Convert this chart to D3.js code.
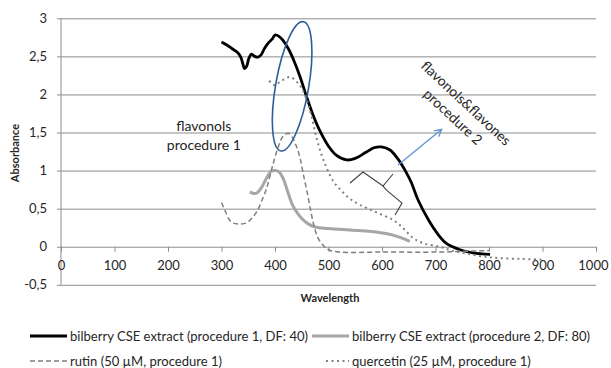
<!DOCTYPE html>
<html lang="en">
<head>
<meta charset="UTF-8">
<title>Absorbance spectra</title>
<script src="https://d3js.org/d3.v7.min.js"></script>
<style>
    body { margin: 0; background: #fff; }
    text { font-family: Lato, "Open Sans", sans-serif; fill: #262626; }
    .grid line { stroke: #8c8c8c; stroke-width: 1; }
    .tick text { font-size: 13px; }
</style>
</head>
<body>
<script>
    // values: [wavelength, absorbance]
    const bilberryP1 = [[300, 2.69], [310, 2.65], [320, 2.6], [330, 2.55], [336, 2.49], [340, 2.4], [343, 2.34], [347, 2.37], [351, 2.47], [356, 2.53], [362, 2.5], [368, 2.49], [374, 2.52], [380, 2.6], [388, 2.68], [395, 2.73], [400, 2.78], [408, 2.76], [415, 2.71], [425, 2.6], [435, 2.45], [447, 2.23], [459, 1.97], [470, 1.75], [484, 1.52], [500, 1.32], [515, 1.2], [534, 1.14], [550, 1.16], [570, 1.24], [585, 1.3], [599, 1.31], [615, 1.27], [630, 1.15], [645, 0.98], [655, 0.84], [667, 0.62], [687, 0.35], [705, 0.16], [721, 0.04], [746, -0.04], [770, -0.08], [802, -0.1]];
    const bilberryP2 = [[353, 0.72], [360, 0.7], [367, 0.71], [375, 0.78], [384, 0.9], [393, 0.99], [400, 1.0], [408, 0.98], [415, 0.9], [423, 0.74], [432, 0.56], [440, 0.46], [450, 0.37], [462, 0.3], [475, 0.26], [500, 0.24], [540, 0.22], [580, 0.2], [610, 0.17], [635, 0.12], [652, 0.07]];
    const rutin = [[300, 0.58], [308, 0.45], [315, 0.35], [322, 0.31], [335, 0.3], [346, 0.31], [356, 0.37], [366, 0.46], [375, 0.6], [384, 0.76], [395, 1.05], [406, 1.31], [415, 1.45], [425, 1.49], [432, 1.44], [440, 1.32], [447, 1.16], [453, 0.95], [460, 0.72], [466, 0.5], [472, 0.3], [480, 0.12], [490, 0.02], [500, -0.04], [520, -0.07], [600, -0.07], [700, -0.07], [750, -0.06], [800, -0.05]];
    const quercetin = [[389, 2.18], [395, 2.14], [400, 2.12], [408, 2.16], [415, 2.19], [428, 2.23], [440, 2.17], [450, 2.08], [459, 1.94], [468, 1.72], [478, 1.42], [490, 1.15], [509, 0.86], [525, 0.73], [540, 0.63], [559, 0.55], [590, 0.45], [621, 0.35], [640, 0.24], [659, 0.11], [680, 0.04], [708, 0.0], [730, -0.05], [758, -0.09], [790, -0.13], [820, -0.15], [860, -0.16], [900, -0.17]];

    const seriesNames = ["bilberry CSE extract (procedure 1, DF: 40)", "bilberry CSE extract (procedure 2, DF: 80)", "rutin (50 µM, procedure 1)", "quercetin (25 µM, procedure 1)"];
    const xTicks = [0, 100, 200, 300, 400, 500, 600, 700, 800, 900, 1000];
    const yTicks = [-0.5, 0, 0.5, 1, 1.5, 2, 2.5, 3];

    const series = [
        { name: seriesNames[0], values: bilberryP1, color: "#000", width: 2.8, dash: null },
        { name: seriesNames[1], values: bilberryP2, color: "#a6a6a6", width: 3, dash: null },
        { name: seriesNames[2], values: rutin, color: "#7f7f7f", width: 1.5, dash: "5,3" },
        { name: seriesNames[3], values: quercetin, color: "#808080", width: 2, dash: "2,3.5" }
    ];

    const width = 611, height = 368;
    const svg = d3.select("body").append("svg")
        .attr("width", width)
        .attr("height", height);

    const x = d3.scaleLinear().domain([0, 1000]).range([61, 596]);
    const y = d3.scaleLinear().domain([-0.5, 3]).range([284.8, 18.3]);

    // horizontal gridlines + y labels
    const yAxis = svg.append("g")
        .attr("class", "grid")
        .attr("transform", `translate(${x(0)},0)`)
        .call(d3.axisLeft(y).tickValues(yTicks).tickSize(-(x(1000) - x(0))).tickPadding(14)
            .tickFormat(d => String(d).replace(".", ",")));
    yAxis.select(".domain").remove();
    yAxis.selectAll(".tick line").attr("x1", -4);

    // vertical axis line
    svg.append("line")
        .attr("x1", x(0)).attr("x2", x(0))
        .attr("y1", y(3)).attr("y2", y(-0.5))
        .attr("stroke", "#8c8c8c");

    // x axis sits on zero
    const xAxis = svg.append("g")
        .attr("class", "grid")
        .attr("transform", `translate(0,${y(0)})`)
        .call(d3.axisBottom(x).tickValues(xTicks).tickSize(5).tickPadding(9)
            .tickFormat(d => String(d)));
    xAxis.select(".domain").remove();
    xAxis.select(".tick:last-of-type text").attr("text-anchor", "end").attr("x", 12);

    svg.selectAll(".tick text").attr("fill", "#262626").style("font-size", "13px");

    // axis titles
    svg.append("text")
        .attr("transform", "translate(19,153) rotate(-90)")
        .attr("text-anchor", "middle")
        .style("font-size", "11px")
        .style("font-weight", "bold")
        .text("Absorbance");

    svg.append("text")
        .attr("x", 330).attr("y", 302)
        .attr("text-anchor", "middle")
        .style("font-size", "11px")
        .style("font-weight", "bold")
        .text("Wavelength");

    // curves
    const line = d3.line()
        .x(d => x(d[0]))
        .y(d => y(d[1]))
        .curve(d3.curveCatmullRom.alpha(0.5));

    svg.selectAll(".series")
        .data(series)
        .enter().append("path")
        .attr("class", "series")
        .attr("d", d => line(d.values))
        .attr("fill", "none")
        .attr("stroke", d => d.color)
        .attr("stroke-width", d => d.width)
        .attr("stroke-dasharray", d => d.dash)
        .attr("stroke-linejoin", "round");

    // annotations
    svg.append("ellipse")
        .attr("transform", `translate(${x(432)},${y(2.107)}) rotate(9.9)`)
        .attr("rx", 16.5).attr("ry", 65.6)
        .attr("fill", "none")
        .attr("stroke", "#2f5d96")
        .attr("stroke-width", 1.6);

    const note1 = svg.append("text")
        .attr("text-anchor", "middle")
        .style("font-size", "14px")
        .attr("fill", "#333");
    note1.append("tspan").attr("x", x(267)).attr("y", y(1.52)).text("flavonols");
    note1.append("tspan").attr("x", x(267)).attr("y", y(1.27)).text("procedure 1");

    const note2 = svg.append("g")
        .attr("transform", `translate(${x(757)},${y(1.887)}) rotate(43)`);
    note2.append("text").attr("text-anchor", "middle").attr("dy", "0.35em")
        .style("font-size", "14px").text("flavonols&flavones");
    note2.append("text").attr("text-anchor", "middle").attr("y", 19).attr("dy", "0.35em")
        .style("font-size", "14px").text("procedure 2");

    // arrow
    const a0 = [x(630), y(1.073)], a1 = [x(711.6), y(1.542)];
    const ang = Math.atan2(a1[1] - a0[1], a1[0] - a0[0]);
    svg.append("line")
        .attr("x1", a0[0]).attr("y1", a0[1]).attr("x2", a1[0]).attr("y2", a1[1])
        .attr("stroke", "#5b8fd0").attr("stroke-width", 1.2);
    const head = [-0.5, 0.5].map(o => [a1[0] - 8 * Math.cos(ang + o), a1[1] - 8 * Math.sin(ang + o)]);
    svg.append("path")
        .attr("d", `M${head[0]}L${a1}L${head[1]}`)
        .attr("fill", "none").attr("stroke", "#5b8fd0").attr("stroke-width", 1.2);

    // bracket
    const brace = [[540.2, 0.837], [564.5, 0.981], [601.9, 0.797], [620.6, 0.955]];
    const brace2 = [[601.9, 0.797], [609, 0.74], [637.4, 0.574], [624.3, 0.416]];
    const bline = d3.line().x(d => x(d[0])).y(d => y(d[1]));
    [brace, brace2].forEach(b => svg.append("path")
        .attr("d", bline(b))
        .attr("fill", "none").attr("stroke", "#404040").attr("stroke-width", 1.1));

    // legend
    const legendPos = [[30, 336], [312, 336], [30, 361], [312, 361]];
    const legend = svg.selectAll(".legend")
        .data(series)
        .enter().append("g")
        .attr("class", "legend")
        .attr("transform", (d, i) => `translate(${legendPos[i][0]},${legendPos[i][1]})`);
    legend.append("line")
        .attr("x1", (d, i) => i === 3 ? 14 : 0).attr("x2", 37)
        .attr("stroke", d => d.color)
        .attr("stroke-width", (d, i) => i < 2 ? 3 : d.width)
        .attr("stroke-dasharray", d => d.dash);
    const ltext = legend.append("text")
        .attr("x", 40).attr("dy", "0.35em")
        .style("font-size", "13px")
        .text(d => d.name);
    // squeeze to the narrow width of the original face (long entries span ~238px)
    const squeeze = 238 / ltext.nodes()[0].getComputedTextLength();
    ltext.each(function () {
        d3.select(this)
            .attr("textLength", this.getComputedTextLength() * squeeze)
            .attr("lengthAdjust", "spacingAndGlyphs");
    });
</script>
</body>
</html>
